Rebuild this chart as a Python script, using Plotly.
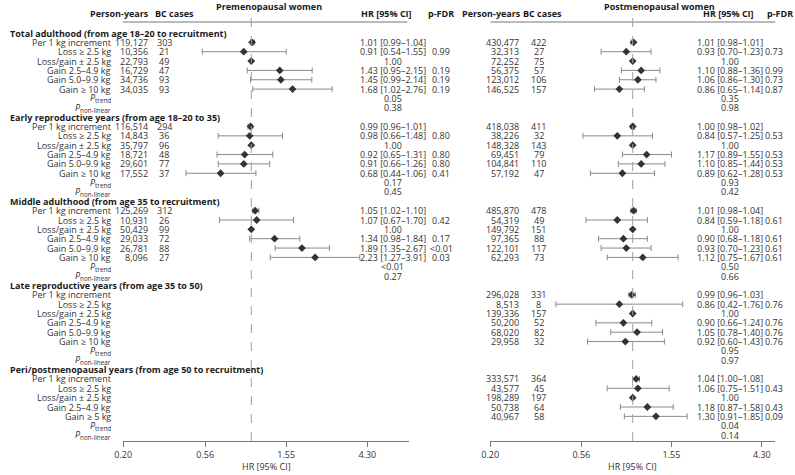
import math
import plotly.graph_objects as go

# ---------------- data ----------------
section_titles = [
    "Total adulthood (from age 18–20 to recruitment)",
    "Early reproductive years (from age 18–20 to 35)",
    "Middle adulthood (from age 35 to recruitment)",
    "Late reproductive years (from age 35 to 50)",
    "Peri/postmenopausal years (from age 50 to recruitment)",
]
cat_labels = ["Per 1 kg increment", "Loss ≥ 2.5 kg", "Loss/gain ± 2.5 kg",
              "Gain 2.5–4.9 kg", "Gain 5.0–9.9 kg", "Gain ≥ 10 kg"]
peri_labels = ["Per 1 kg increment", "Loss ≥ 2.5 kg", "Loss/gain ± 2.5 kg",
               "Gain 2.5–4.9 kg", "Gain ≥ 5 kg"]
tick_vals = [0.20, 0.56, 1.55, 4.30]
tick_text = ["0.20", "0.56", "1.55", "4.30"]

# Premenopausal women (sections 1-3 only)
pre_py = [[119127, 10356, 22793, 16729, 34736, 34035],
          [116514, 14843, 35797, 18721, 29601, 17552],
          [125269, 10931, 50429, 29033, 26781, 8096]]
pre_cases = [[303, 21, 49, 47, 93, 93],
             [294, 36, 96, 48, 77, 37],
             [312, 26, 99, 72, 88, 27]]
pre_hr = [[1.01, 0.91, 1.00, 1.43, 1.45, 1.68],
          [0.99, 0.98, 1.00, 0.92, 0.91, 0.68],
          [1.05, 1.07, 1.00, 1.34, 1.89, 2.23]]
pre_lo = [[0.99, 0.54, None, 0.95, 0.99, 1.02],
          [0.96, 0.66, None, 0.65, 0.66, 0.44],
          [1.02, 0.67, None, 0.98, 1.35, 1.27]]
pre_hi = [[1.04, 1.55, None, 2.15, 2.14, 2.76],
          [1.01, 1.48, None, 1.31, 1.26, 1.06],
          [1.10, 1.70, None, 1.84, 2.67, 3.91]]
pre_pfdr = [["", "0.99", "", "0.19", "0.19", "0.19"],
            ["", "0.80", "", "0.80", "0.80", "0.41"],
            ["", "0.42", "", "0.17", "<0.01", "0.03"]]
pre_ptrend = ["0.05", "0.17", "<0.01"]
pre_pnonlin = ["0.38", "0.45", "0.27"]

# Postmenopausal women (all 5 sections)
post_py = [[430477, 32313, 72252, 56375, 123012, 146525],
           [418038, 38226, 148328, 69451, 104841, 57192],
           [485870, 54319, 149792, 97365, 122101, 62293],
           [296028, 8513, 139336, 50200, 68020, 29958],
           [333571, 43577, 198289, 50738, 40967]]
post_cases = [[422, 27, 75, 57, 106, 157],
              [411, 32, 143, 79, 110, 47],
              [478, 49, 151, 88, 117, 73],
              [331, 8, 157, 52, 82, 32],
              [364, 45, 197, 64, 58]]
post_hr = [[1.01, 0.93, 1.00, 1.10, 1.06, 0.86],
           [1.00, 0.84, 1.00, 1.17, 1.10, 0.89],
           [1.01, 0.84, 1.00, 0.90, 0.93, 1.12],
           [0.99, 0.86, 1.00, 0.90, 1.05, 0.92],
           [1.04, 1.06, 1.00, 1.18, 1.30]]
post_lo = [[0.98, 0.70, None, 0.88, 0.86, 0.65],
           [0.98, 0.57, None, 0.89, 0.85, 0.62],
           [0.98, 0.59, None, 0.68, 0.70, 0.75],
           [0.96, 0.42, None, 0.66, 0.78, 0.60],
           [1.00, 0.75, None, 0.87, 0.91]]
post_hi = [[1.01, 1.23, None, 1.36, 1.30, 1.14],
           [1.02, 1.25, None, 1.55, 1.44, 1.28],
           [1.04, 1.18, None, 1.18, 1.23, 1.67],
           [1.03, 1.76, None, 1.24, 1.40, 1.43],
           [1.08, 1.51, None, 1.58, 1.85]]
post_pfdr = [["", "0.73", "", "0.99", "0.73", "0.87"],
             ["", "0.53", "", "0.53", "0.53", "0.53"],
             ["", "0.61", "", "0.61", "0.61", "0.61"],
             ["", "0.76", "", "0.76", "0.76", "0.76"],
             ["", "0.43", "", "0.43", "0.09"]]
post_ptrend = ["0.35", "0.93", "0.50", "0.95", "0.04"]
post_pnonlin = ["0.98", "0.42", "0.66", "0.97", "0.14"]

# ---------------- geometry ----------------
W, H = 795, 475
PLOT_BOTTOM = 441          # pixel row of the x-axis lines
ROW0, ROWH = 33, 9.35      # pixel of first section header and row pitch
FONT = "Open Sans"
FS = 9
TXT = "#333333"


def prow(p):               # pixel y -> row units
    return (p - ROW0) / ROWH


def px(x):                 # pixel x -> paper
    return x / W


def ppy(p):                # pixel y -> paper y
    return (PLOT_BOTTOM - p) / PLOT_BOTTOM


left_dom = [115.5, 405.0]
left_scale = 80.5
right_dom = [486.7, 775.0]
lo10 = math.log10(0.2)
left_range = [lo10, lo10 + (left_dom[1] - left_dom[0]) / left_scale / math.log(10)]
right_range = [lo10, math.log10(5.0)]

fig = go.Figure()
ann = []


def text(x, row, s, anchor="right", bold=False, color=TXT, size=FS):
    ann.append(dict(x=px(x), xref="paper", y=row, yref="y", text=(f"<b>{s}</b>" if bold else s),
                    showarrow=False, xanchor=anchor, yanchor="middle",
                    font=dict(family=FONT, size=size, color=color), borderpad=0))


def fmt(v):
    return f"{v:,}"


def hrtext(h, l, u):
    if l is None:
        return f"{h:.2f}"
    return f"{h:.2f} [{l:.2f}–{u:.2f}]"


def panel(xaxis, py, cases, hr, lo, hi, pfdr, ptrend, pnl, xc):
    ex, ey, eplus, eminus, rx, ry = [], [], [], [], [], []
    for s in range(len(py)):
        base = 9 * s
        for i in range(len(py[s])):
            r = base + 1 + i
            text(xc["py"], r, fmt(py[s][i]), "right")
            text(xc["bc"], r, str(cases[s][i]), "center")
            text(xc["hr"], r, hrtext(hr[s][i], lo[s][i], hi[s][i]), "center")
            if pfdr[s][i]:
                text(xc["pf"], r, pfdr[s][i], "center")
            if lo[s][i] is None:
                rx.append(hr[s][i]); ry.append(r)
            else:
                ex.append(hr[s][i]); ey.append(r)
                eplus.append(hi[s][i] - hr[s][i]); eminus.append(hr[s][i] - lo[s][i])
        n = len(py[s])
        text(xc["hr"], base + n + 1, ptrend[s], "center")
        text(xc["hr"], base + n + 2, pnl[s], "center")
    fig.add_trace(go.Scatter(x=ex, y=ey, mode="markers", xaxis=xaxis, yaxis="y",
                             marker=dict(symbol="diamond", size=6, color="#333333"),
                             error_x=dict(type="data", symmetric=False, array=eplus, arrayminus=eminus,
                                          color="#8a8a8a", thickness=1, width=3),
                             showlegend=False, hoverinfo="skip"))
    fig.add_trace(go.Scatter(x=rx, y=ry, mode="markers", xaxis=xaxis, yaxis="y",
                             marker=dict(symbol="diamond", size=6, color="#333333"),
                             showlegend=False, hoverinfo="skip"))


# row labels
for s, title in enumerate(section_titles):
    base = 9 * s
    text(0, base, title, "left", bold=True, color="#1a1a1a")
    labs = peri_labels if s == 4 else cat_labels
    for i, lab in enumerate(labs):
        text(104, base + 1 + i, lab, "right")
    n = len(labs)
    text(104, base + n + 1, "<i>P</i><sub>trend</sub>", "right")
    text(104, base + n + 2, "<i>P</i><sub>non-linear</sub>", "right")

panel("x", pre_py, pre_cases, pre_hr, pre_lo, pre_hi, pre_pfdr, pre_ptrend, pre_pnonlin,
      dict(py=142, bc=157, hr=388, pf=437))
panel("x2", post_py, post_cases, post_hr, post_lo, post_hi, post_pfdr, post_ptrend, post_pnonlin,
      dict(py=517, bc=536, hr=729, pf=774))

# headers
hdr_row = prow(13.5)
for x, s in [(112, "Person-years"), (167, "BC cases"), (382, "HR [95% CI]"), (437, "p-FDR"),
             (488, "Person-years"), (540, "BC cases"), (728, "HR [95% CI]"), (780, "p-FDR")]:
    text(x, hdr_row, s, "center", bold=True, color="#1a1a1a")
text(263, prow(6), "Premenopausal women", "center", bold=True, color="#1a1a1a")
text(657.5, prow(6), "Postmenopausal women", "center", bold=True, color="#1a1a1a")

# axis titles
for xc in [(left_dom[0] + left_dom[1]) / 2, (right_dom[0] + right_dom[1]) / 2]:
    ann.append(dict(x=px(xc), xref="paper", y=ppy(467), yref="paper", text="HR [95% CI]",
                    showarrow=False, xanchor="center", yanchor="middle",
                    font=dict(family=FONT, size=FS, color=TXT)))

shapes = []
# header rules
for a, b in [(115, 403), (487, 775)]:
    shapes.append(dict(type="line", xref="paper", yref="paper", x0=px(a), x1=px(b),
                       y0=ppy(22), y1=ppy(22), line=dict(color="#777777", width=1)))
# reference lines at HR = 1
for xr in ["x", "x2"]:
    shapes.append(dict(type="line", xref=xr, yref="paper", x0=1, x1=1, y0=0, y1=ppy(11),
                       line=dict(color="#a0a0a0", width=1, dash="dash")))

axis_common = dict(type="log", tickvals=tick_vals, ticktext=tick_text, showgrid=False,
                   zeroline=False, showline=True, linecolor="#777777", linewidth=1,
                   ticks="outside", ticklen=5, tickcolor="#777777",
                   tickfont=dict(family=FONT, size=FS, color=TXT), anchor="y")

fig.update_layout(
    width=W, height=H, margin=dict(l=0, r=0, t=0, b=H - PLOT_BOTTOM),
    paper_bgcolor="white", plot_bgcolor="white",
    xaxis=dict(domain=[px(left_dom[0]), px(left_dom[1])], range=left_range, **axis_common),
    xaxis2=dict(domain=[px(right_dom[0]), px(right_dom[1])], range=right_range, **axis_common),
    yaxis=dict(range=[prow(PLOT_BOTTOM), prow(0)], visible=False, showgrid=False, zeroline=False),
    annotations=ann, shapes=shapes, showlegend=False,
)

fig.write_html("out.html", config={"displayModeBar": False},
               post_script="document.body.style.margin='0px';")
